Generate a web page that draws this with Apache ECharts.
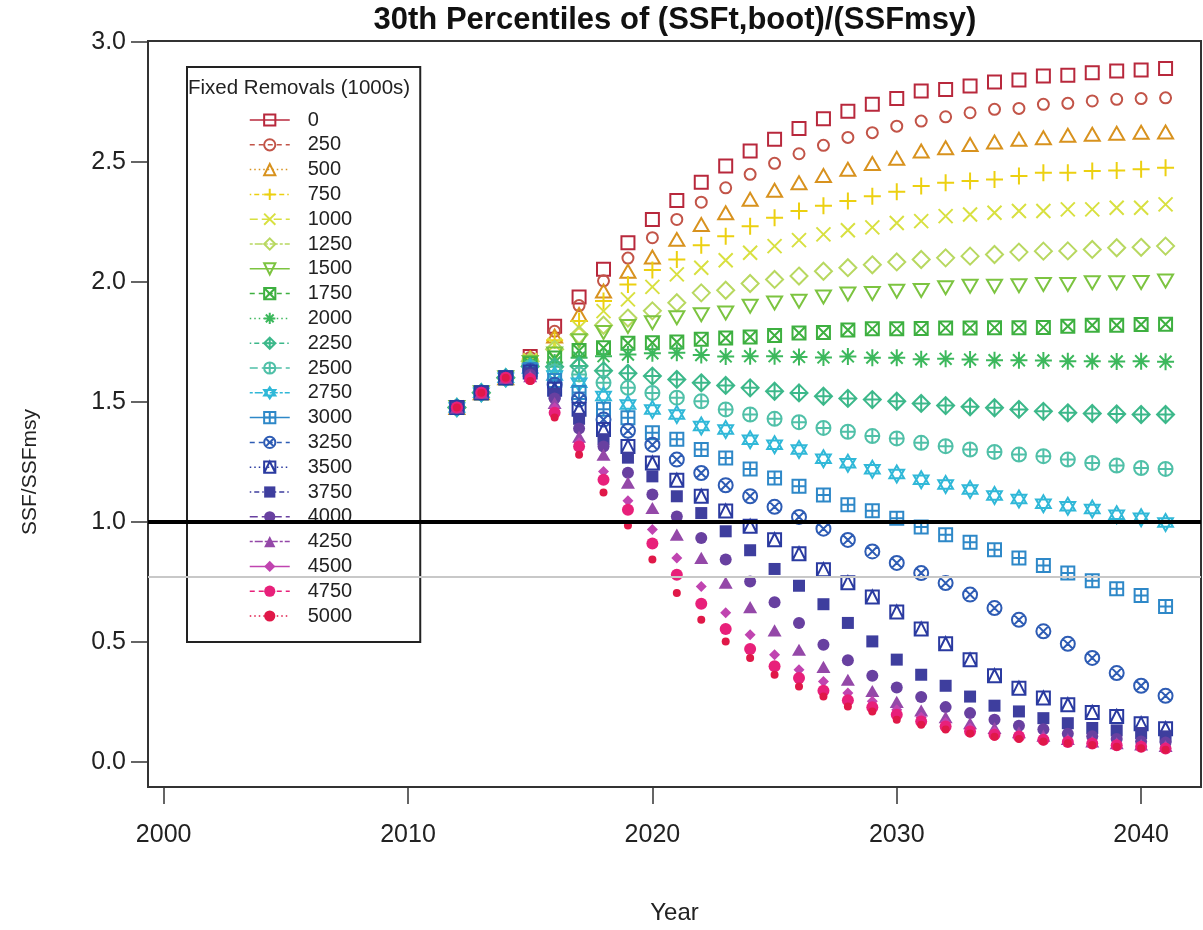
<!DOCTYPE html>
<html><head><meta charset="utf-8">
<script src="https://cdn.jsdelivr.net/npm/echarts@6/dist/echarts.min.js"></script>
<style>html,body{margin:0;padding:0;background:#fff}#c{width:1203px;height:930px}</style>
</head><body><div id="c"></div>
<script>
// ---------------- data ----------------
const years = [2012,2013,2014,2015,2016,2017,2018,2019,2020,2021,2022,2023,2024,2025,2026,2027,2028,2029,2030,2031,2032,2033,2034,2035,2036,2037,2038,2039,2040,2041];
const removals = ['0','250','500','750','1000','1250','1500','1750','2000','2250','2500','2750','3000','3250','3500','3750','4000','4250','4500','4750','5000'];
const xTicks = [2000,2010,2020,2030,2040];
const yTicks = [0,0.5,1.0,1.5,2.0,2.5,3.0];
const refLines = [1.0, 0.773];

const r0    = [1.477,1.539,1.601,1.690,1.816,1.938,2.053,2.164,2.261,2.340,2.416,2.484,2.546,2.595,2.640,2.681,2.712,2.741,2.765,2.797,2.803,2.817,2.834,2.842,2.859,2.862,2.873,2.880,2.884,2.890];
const r250  = [1.477,1.539,1.601,1.686,1.795,1.902,2.005,2.100,2.185,2.261,2.333,2.393,2.449,2.495,2.535,2.570,2.603,2.623,2.650,2.671,2.689,2.706,2.720,2.724,2.741,2.745,2.755,2.762,2.765,2.768];
const r500  = [1.477,1.539,1.601,1.682,1.775,1.865,1.963,2.045,2.105,2.178,2.240,2.289,2.345,2.383,2.414,2.444,2.470,2.494,2.516,2.546,2.560,2.574,2.584,2.595,2.602,2.612,2.616,2.620,2.625,2.626];
const r750  = [1.477,1.539,1.601,1.678,1.757,1.838,1.921,1.990,2.050,2.094,2.153,2.191,2.233,2.268,2.296,2.318,2.338,2.358,2.377,2.400,2.414,2.421,2.428,2.442,2.456,2.456,2.463,2.465,2.470,2.477];
const r1000 = [1.477,1.539,1.601,1.674,1.738,1.810,1.879,1.928,1.980,2.032,2.060,2.091,2.122,2.150,2.175,2.199,2.216,2.228,2.246,2.254,2.275,2.282,2.289,2.296,2.296,2.303,2.303,2.310,2.310,2.324];
const r1250 = [1.477,1.539,1.601,1.670,1.720,1.780,1.820,1.850,1.880,1.914,1.955,1.966,1.994,2.011,2.025,2.045,2.060,2.072,2.084,2.094,2.101,2.108,2.115,2.125,2.129,2.130,2.136,2.143,2.145,2.150];
const r1500 = [1.477,1.539,1.601,1.665,1.700,1.755,1.790,1.815,1.830,1.851,1.864,1.871,1.899,1.913,1.920,1.938,1.950,1.952,1.962,1.965,1.976,1.983,1.983,1.985,1.990,1.990,1.997,1.997,1.998,2.004];
const r1750 = [1.477,1.539,1.601,1.660,1.683,1.715,1.726,1.745,1.747,1.750,1.762,1.767,1.771,1.777,1.788,1.790,1.800,1.805,1.805,1.806,1.809,1.809,1.810,1.810,1.811,1.816,1.820,1.820,1.823,1.824];
const r2000 = [1.477,1.539,1.601,1.652,1.665,1.685,1.691,1.698,1.703,1.705,1.696,1.690,1.691,1.691,1.688,1.686,1.690,1.685,1.684,1.678,1.680,1.677,1.674,1.674,1.673,1.670,1.670,1.669,1.670,1.668];
const r2250 = [1.477,1.539,1.601,1.648,1.647,1.650,1.630,1.620,1.608,1.594,1.580,1.569,1.559,1.545,1.538,1.524,1.515,1.510,1.503,1.494,1.485,1.480,1.476,1.469,1.461,1.455,1.452,1.450,1.448,1.448];
const r2500 = [1.477,1.539,1.601,1.644,1.628,1.615,1.580,1.559,1.538,1.518,1.503,1.469,1.448,1.430,1.416,1.392,1.376,1.358,1.348,1.330,1.316,1.302,1.292,1.281,1.274,1.260,1.246,1.235,1.225,1.221];
const r2750 = [1.477,1.539,1.601,1.640,1.610,1.580,1.525,1.490,1.469,1.448,1.400,1.385,1.343,1.322,1.302,1.263,1.245,1.220,1.200,1.176,1.156,1.135,1.110,1.096,1.076,1.065,1.054,1.030,1.017,0.998];
const r3000 = [1.477,1.539,1.601,1.636,1.590,1.540,1.470,1.434,1.372,1.345,1.302,1.267,1.221,1.183,1.149,1.112,1.072,1.047,1.015,0.979,0.947,0.915,0.884,0.850,0.818,0.787,0.755,0.722,0.693,0.648];
const r3250 = [1.477,1.539,1.601,1.630,1.572,1.510,1.427,1.380,1.322,1.260,1.204,1.153,1.107,1.063,1.021,0.972,0.925,0.877,0.829,0.787,0.745,0.697,0.641,0.592,0.544,0.492,0.433,0.370,0.317,0.275];
const r3500 = [1.477,1.539,1.601,1.625,1.553,1.470,1.385,1.315,1.246,1.174,1.107,1.046,0.982,0.926,0.867,0.801,0.747,0.687,0.625,0.554,0.492,0.425,0.359,0.307,0.266,0.238,0.206,0.189,0.159,0.138];
const r3750 = [1.477,1.539,1.601,1.620,1.535,1.430,1.345,1.268,1.190,1.107,1.037,0.961,0.882,0.804,0.734,0.657,0.579,0.502,0.426,0.363,0.317,0.272,0.234,0.210,0.182,0.161,0.141,0.131,0.120,0.106];
const r4000 = [1.477,1.539,1.601,1.614,1.515,1.390,1.315,1.205,1.114,1.023,0.933,0.843,0.752,0.665,0.579,0.488,0.423,0.359,0.310,0.270,0.228,0.203,0.175,0.150,0.136,0.117,0.107,0.095,0.085,0.080];
const r4250 = [1.477,1.539,1.601,1.608,1.496,1.355,1.280,1.164,1.058,0.947,0.850,0.747,0.645,0.548,0.467,0.396,0.342,0.295,0.250,0.214,0.186,0.161,0.141,0.123,0.109,0.095,0.085,0.078,0.072,0.066];
const r4500 = [1.477,1.539,1.601,1.602,1.476,1.330,1.210,1.088,0.968,0.850,0.731,0.621,0.530,0.446,0.384,0.335,0.287,0.252,0.217,0.186,0.164,0.141,0.125,0.112,0.100,0.090,0.082,0.075,0.068,0.062];
const r4750 = [1.477,1.539,1.601,1.596,1.455,1.315,1.176,1.051,0.910,0.780,0.659,0.554,0.470,0.398,0.349,0.296,0.257,0.227,0.196,0.168,0.147,0.126,0.113,0.106,0.092,0.083,0.076,0.069,0.063,0.055];
const r5000 = [1.477,1.539,1.601,1.588,1.435,1.280,1.123,0.985,0.843,0.704,0.592,0.502,0.433,0.363,0.314,0.272,0.231,0.210,0.175,0.155,0.135,0.118,0.104,0.095,0.085,0.077,0.070,0.063,0.057,0.050];
const seriesValues = [r0,r250,r500,r750,r1000,r1250,r1500,r1750,r2000,r2250,r2500,r2750,r3000,r3250,r3500,r3750,r4000,r4250,r4500,r4750,r5000];

// ---------------- styles ----------------
const colors = ['#b8283c','#c25448','#d8921e','#ecd010','#d8e040','#b8d860','#7cc440','#3eb040','#3cb85c','#3cb88a','#50c0a8','#30b8d8','#2e88c8','#2e5cb4','#2a3aa0','#3e3e9e','#6840a0','#9448a8','#c044b0','#e8207a','#e01848'];
const CIRC = 'M0,5A5,5,0,1,1,10,5A5,5,0,1,1,0,5Z';
const shapes = [
  'path://M0,0L10,0L10,10L0,10Z',
  'path://' + CIRC,
  'path://M5,0L10,8.66L0,8.66Z',
  'path://M5,0L5,10M0,5L10,5',
  'path://M0,0L10,10M10,0L0,10',
  'path://M5,0L10,5L5,10L0,5Z',
  'path://M0,0L10,0L5,8.66Z',
  'path://M0,0L10,0L10,10L0,10ZM0,0L10,10M10,0L0,10',
  'path://M5,0L5,10M0,5L10,5M1.5,1.5L8.5,8.5M8.5,1.5L1.5,8.5',
  'path://M5,0L10,5L5,10L0,5ZM5,0L5,10M0,5L10,5',
  'path://' + CIRC + 'M5,0L5,10M0,5L10,5',
  'path://M5,0L9.33,7.5L0.67,7.5ZM0.67,2.5L9.33,2.5L5,10Z',
  'path://M0,0L10,0L10,10L0,10ZM5,0L5,10M0,5L10,5',
  'path://' + CIRC + 'M1.46,1.46L8.54,8.54M8.54,1.46L1.46,8.54',
  'path://M0,0L10,0L10,10L0,10ZM0,10L5,0L10,10',
  'path://M0,0L10,0L10,10L0,10Z',
  'path://' + CIRC,
  'path://M5,0L10,8.66L0,8.66Z',
  'path://M5,0L10,5L5,10L0,5Z',
  'path://' + CIRC,
  'path://' + CIRC
];
const sizes = [13,11,15,17,14,17,15,13,17,17,14,17,13,14,13,12,12,14,11,12,8];
const filled = [0,0,0,0,0,0,0,0,0,0,0,0,0,0,0,1,1,1,1,1,1];
const dashes = ['solid',[5,4],[1.5,3],[1.5,3,5,3],[8,4],[3,2,8,2]];
const FONT = '"Liberation Sans", Arial, sans-serif';
const INK = '#222';

const chart = echarts.init(document.getElementById('c'), null, {renderer: 'canvas'});

const series = removals.map((name, i) => ({
  name: name,
  type: 'line',
  data: years.map((y, j) => [y, seriesValues[i][j]]),
  symbol: shapes[i],
  symbolSize: sizes[i],
  symbolKeepAspect: true,
  showSymbol: true,
  showAllSymbol: true,
  lineStyle: {color: colors[i], width: 1.5, type: dashes[i % 6], opacity: 0},
  itemStyle: filled[i]
    ? {color: colors[i], borderWidth: 0}
    : {color: 'rgba(255,255,255,0)', borderColor: colors[i], borderWidth: 2},
  emphasis: {disabled: true},
  z: 3
}));

series.push({
  name: 'ref', type: 'line', data: [], z: 10, silent: true,
  markLine: {
    silent: true, symbol: 'none', animation: false, label: {show: false},
    data: [
      {yAxis: refLines[0], lineStyle: {color: '#000', width: 4, type: 'solid'}},
      {yAxis: refLines[1], lineStyle: {color: '#c8c8c8', width: 2, type: 'solid'}}
    ]
  }
});

chart.setOption({
  animation: false,
  backgroundColor: '#fff',
  grid: {left: 148, right: 2, top: 41, bottom: 142, show: true, borderColor: '#333', borderWidth: 2},
  xAxis: {
    type: 'value', min: 1999.36, max: 2042.45,
    axisLine: {show: false, onZero: false},
    splitLine: {show: false},
    axisTick: {show: true, length: 17, customValues: xTicks, lineStyle: {color: '#333', width: 1.5}},
    axisLabel: {customValues: xTicks, fontSize: 25, color: INK, margin: 36, fontFamily: FONT,
      formatter: v => String(Math.round(v))},
    name: 'Year', nameLocation: 'middle', nameGap: 114,
    nameTextStyle: {fontSize: 24, color: INK, fontFamily: FONT}
  },
  yAxis: {
    type: 'value', min: -0.105, max: 3.005,
    axisLine: {show: false, onZero: false},
    splitLine: {show: false},
    axisTick: {show: true, length: 17, customValues: yTicks, lineStyle: {color: '#333', width: 1.5}},
    axisLabel: {customValues: yTicks, fontSize: 25, color: INK, margin: 22, fontFamily: FONT,
      formatter: v => v.toFixed(1)}
  },
  legend: {
    data: removals,
    orient: 'vertical',
    left: 187, top: 67,
    padding: [43, 68, 16, 62],
    itemWidth: 40, itemHeight: 14, itemGap: 4.8,
    borderColor: '#222', borderWidth: 2,
    backgroundColor: '#fff',
    selectedMode: false,
    textStyle: {fontSize: 20, color: INK, fontFamily: FONT, lineHeight: 20, padding: [0, 0, 0, 13]},
    lineStyle: {opacity: 1, width: 1.5},
    z: 2
  },
  graphic: [
    {type: 'text', x: 675, y: 20, z: 20,
     style: {text: '30th Percentiles of (SSFt,boot)/(SSFmsy)', font: 'bold 31px ' + FONT, fill: '#111', align: 'center', verticalAlign: 'middle'}},
    {type: 'text', x: 188, y: 88, z: 20,
     style: {text: 'Fixed Removals (1000s)', font: '20.5px ' + FONT, fill: INK, align: 'left', verticalAlign: 'middle'}},
    {type: 'text', x: 30, y: 472, rotation: Math.PI / 2, z: 20,
     style: {text: 'SSF/SSFmsy', font: '21px ' + FONT, fill: INK, align: 'center', verticalAlign: 'middle'}}
  ],
  series: series
});
</script>
</body></html>
